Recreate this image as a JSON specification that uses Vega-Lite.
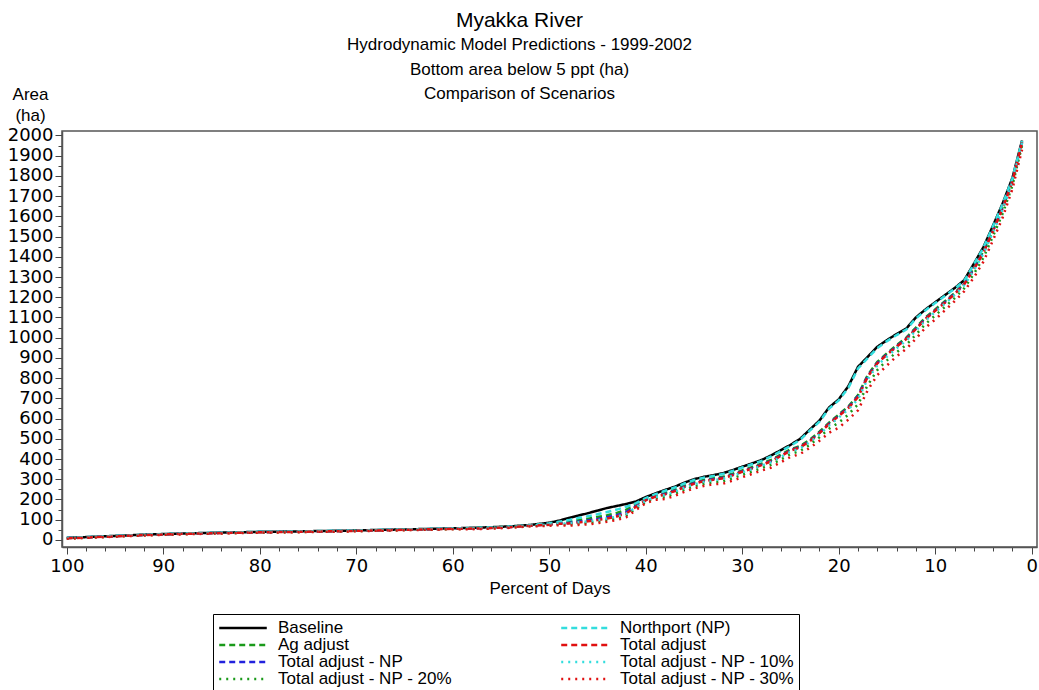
{
 "$schema": "https://vega.github.io/schema/vega-lite/v6.json",
 "width": 975,
 "height": 416,
 "autosize": {"type": "none"},
 "padding": {"left": 62, "top": 131, "right": 2, "bottom": 143},
 "background": "white",
 "config": {"view": {"stroke": "#555", "strokeWidth": 1.5}, "font": "Liberation Sans"},
 "title": {
  "text": "Myakka River",
  "subtitle": ["Hydrodynamic Model Predictions - 1999-2002", "Bottom area below 5 ppt (ha)", "Comparison of Scenarios"],
  "anchor": "middle", "frame": "group", "dx": -30, "offset": -17,
  "font": "Liberation Sans", "fontSize": 21, "fontWeight": "normal", "color": "black",
  "subtitleFont": "Liberation Sans", "subtitleFontSize": 17, "subtitleColor": "black",
  "subtitlePadding": 6, "subtitleLineHeight": 24.5
 },
 "data": {"values": [
  {"p":100,"Baseline":10,"Northport (NP)":10,"Ag adjust":9,"Total adjust - NP":9,"Total adjust":8,"Total adjust - NP - 10%":9,"Total adjust - NP - 20%":7,"Total adjust - NP - 30%":6},
  {"p":98,"Baseline":14,"Northport (NP)":14,"Ag adjust":13,"Total adjust - NP":13,"Total adjust":12,"Total adjust - NP - 10%":13,"Total adjust - NP - 20%":11,"Total adjust - NP - 30%":10},
  {"p":96,"Baseline":18,"Northport (NP)":18,"Ag adjust":17,"Total adjust - NP":17,"Total adjust":16,"Total adjust - NP - 10%":17,"Total adjust - NP - 20%":15,"Total adjust - NP - 30%":14},
  {"p":94,"Baseline":22,"Northport (NP)":22,"Ag adjust":21,"Total adjust - NP":21,"Total adjust":20,"Total adjust - NP - 10%":21,"Total adjust - NP - 20%":19,"Total adjust - NP - 30%":18},
  {"p":92,"Baseline":26,"Northport (NP)":26,"Ag adjust":25,"Total adjust - NP":25,"Total adjust":24,"Total adjust - NP - 10%":25,"Total adjust - NP - 20%":23,"Total adjust - NP - 30%":22},
  {"p":90,"Baseline":29,"Northport (NP)":29,"Ag adjust":28,"Total adjust - NP":28,"Total adjust":27,"Total adjust - NP - 10%":28,"Total adjust - NP - 20%":26,"Total adjust - NP - 30%":25},
  {"p":88,"Baseline":32,"Northport (NP)":32,"Ag adjust":31,"Total adjust - NP":31,"Total adjust":30,"Total adjust - NP - 10%":31,"Total adjust - NP - 20%":29,"Total adjust - NP - 30%":28},
  {"p":86,"Baseline":34,"Northport (NP)":34,"Ag adjust":33,"Total adjust - NP":33,"Total adjust":32,"Total adjust - NP - 10%":33,"Total adjust - NP - 20%":31,"Total adjust - NP - 30%":30},
  {"p":84,"Baseline":36,"Northport (NP)":36,"Ag adjust":35,"Total adjust - NP":35,"Total adjust":34,"Total adjust - NP - 10%":35,"Total adjust - NP - 20%":33,"Total adjust - NP - 30%":32},
  {"p":82,"Baseline":38,"Northport (NP)":38,"Ag adjust":37,"Total adjust - NP":37,"Total adjust":36,"Total adjust - NP - 10%":37,"Total adjust - NP - 20%":35,"Total adjust - NP - 30%":34},
  {"p":80,"Baseline":40,"Northport (NP)":40,"Ag adjust":39,"Total adjust - NP":39,"Total adjust":38,"Total adjust - NP - 10%":39,"Total adjust - NP - 20%":37,"Total adjust - NP - 30%":36},
  {"p":78,"Baseline":41,"Northport (NP)":41,"Ag adjust":40,"Total adjust - NP":40,"Total adjust":39,"Total adjust - NP - 10%":40,"Total adjust - NP - 20%":38,"Total adjust - NP - 30%":37},
  {"p":76,"Baseline":42,"Northport (NP)":42,"Ag adjust":41,"Total adjust - NP":41,"Total adjust":40,"Total adjust - NP - 10%":41,"Total adjust - NP - 20%":39,"Total adjust - NP - 30%":38},
  {"p":74,"Baseline":44,"Northport (NP)":44,"Ag adjust":43,"Total adjust - NP":43,"Total adjust":42,"Total adjust - NP - 10%":43,"Total adjust - NP - 20%":41,"Total adjust - NP - 30%":40},
  {"p":72,"Baseline":45,"Northport (NP)":45,"Ag adjust":44,"Total adjust - NP":44,"Total adjust":43,"Total adjust - NP - 10%":44,"Total adjust - NP - 20%":42,"Total adjust - NP - 30%":41},
  {"p":70,"Baseline":47,"Northport (NP)":47,"Ag adjust":46,"Total adjust - NP":46,"Total adjust":45,"Total adjust - NP - 10%":46,"Total adjust - NP - 20%":44,"Total adjust - NP - 30%":43},
  {"p":68,"Baseline":49,"Northport (NP)":49,"Ag adjust":48,"Total adjust - NP":48,"Total adjust":47,"Total adjust - NP - 10%":48,"Total adjust - NP - 20%":46,"Total adjust - NP - 30%":45},
  {"p":66,"Baseline":51,"Northport (NP)":51,"Ag adjust":50,"Total adjust - NP":50,"Total adjust":49,"Total adjust - NP - 10%":50,"Total adjust - NP - 20%":48,"Total adjust - NP - 30%":47},
  {"p":64,"Baseline":53,"Northport (NP)":53,"Ag adjust":52,"Total adjust - NP":52,"Total adjust":51,"Total adjust - NP - 10%":52,"Total adjust - NP - 20%":50,"Total adjust - NP - 30%":49},
  {"p":62,"Baseline":55,"Northport (NP)":55,"Ag adjust":54,"Total adjust - NP":54,"Total adjust":53,"Total adjust - NP - 10%":54,"Total adjust - NP - 20%":52,"Total adjust - NP - 30%":51},
  {"p":60,"Baseline":57,"Northport (NP)":57,"Ag adjust":56,"Total adjust - NP":56,"Total adjust":55,"Total adjust - NP - 10%":56,"Total adjust - NP - 20%":54,"Total adjust - NP - 30%":53},
  {"p":58,"Baseline":60,"Northport (NP)":59,"Ag adjust":58,"Total adjust - NP":57,"Total adjust":56,"Total adjust - NP - 10%":57,"Total adjust - NP - 20%":55,"Total adjust - NP - 30%":53},
  {"p":56,"Baseline":63,"Northport (NP)":62,"Ag adjust":61,"Total adjust - NP":60,"Total adjust":59,"Total adjust - NP - 10%":60,"Total adjust - NP - 20%":58,"Total adjust - NP - 30%":56},
  {"p":54,"Baseline":67,"Northport (NP)":66,"Ag adjust":65,"Total adjust - NP":64,"Total adjust":63,"Total adjust - NP - 10%":64,"Total adjust - NP - 20%":62,"Total adjust - NP - 30%":60},
  {"p":52,"Baseline":74,"Northport (NP)":73,"Ag adjust":72,"Total adjust - NP":71,"Total adjust":70,"Total adjust - NP - 10%":71,"Total adjust - NP - 20%":69,"Total adjust - NP - 30%":67},
  {"p":50,"Baseline":85,"Northport (NP)":82,"Ag adjust":79,"Total adjust - NP":77,"Total adjust":75,"Total adjust - NP - 10%":76,"Total adjust - NP - 20%":73,"Total adjust - NP - 30%":70},
  {"p":49,"Baseline":95,"Northport (NP)":90,"Ag adjust":85,"Total adjust - NP":82,"Total adjust":80,"Total adjust - NP - 10%":81,"Total adjust - NP - 20%":77,"Total adjust - NP - 30%":73},
  {"p":48,"Baseline":108,"Northport (NP)":98,"Ag adjust":90,"Total adjust - NP":84,"Total adjust":81,"Total adjust - NP - 10%":82,"Total adjust - NP - 20%":76,"Total adjust - NP - 30%":70},
  {"p":47,"Baseline":120,"Northport (NP)":108,"Ag adjust":98,"Total adjust - NP":90,"Total adjust":86,"Total adjust - NP - 10%":87,"Total adjust - NP - 20%":80,"Total adjust - NP - 30%":74},
  {"p":46,"Baseline":132,"Northport (NP)":117,"Ag adjust":105,"Total adjust - NP":96,"Total adjust":92,"Total adjust - NP - 10%":92,"Total adjust - NP - 20%":84,"Total adjust - NP - 30%":77},
  {"p":45,"Baseline":145,"Northport (NP)":127,"Ag adjust":113,"Total adjust - NP":103,"Total adjust":98,"Total adjust - NP - 10%":98,"Total adjust - NP - 20%":90,"Total adjust - NP - 30%":83},
  {"p":44,"Baseline":158,"Northport (NP)":138,"Ag adjust":122,"Total adjust - NP":112,"Total adjust":106,"Total adjust - NP - 10%":106,"Total adjust - NP - 20%":98,"Total adjust - NP - 30%":90},
  {"p":43,"Baseline":168,"Northport (NP)":150,"Ag adjust":133,"Total adjust - NP":122,"Total adjust":116,"Total adjust - NP - 10%":115,"Total adjust - NP - 20%":106,"Total adjust - NP - 30%":98},
  {"p":42,"Baseline":178,"Northport (NP)":164,"Ag adjust":150,"Total adjust - NP":138,"Total adjust":132,"Total adjust - NP - 10%":130,"Total adjust - NP - 20%":122,"Total adjust - NP - 30%":113},
  {"p":41,"Baseline":190,"Northport (NP)":182,"Ag adjust":175,"Total adjust - NP":168,"Total adjust":164,"Total adjust - NP - 10%":162,"Total adjust - NP - 20%":155,"Total adjust - NP - 30%":148},
  {"p":40,"Baseline":212,"Northport (NP)":207,"Ag adjust":202,"Total adjust - NP":198,"Total adjust":196,"Total adjust - NP - 10%":194,"Total adjust - NP - 20%":188,"Total adjust - NP - 30%":182},
  {"p":39,"Baseline":230,"Northport (NP)":226,"Ag adjust":220,"Total adjust - NP":216,"Total adjust":214,"Total adjust - NP - 10%":212,"Total adjust - NP - 20%":206,"Total adjust - NP - 30%":198},
  {"p":38,"Baseline":247,"Northport (NP)":243,"Ag adjust":232,"Total adjust - NP":227,"Total adjust":225,"Total adjust - NP - 10%":222,"Total adjust - NP - 20%":212,"Total adjust - NP - 30%":202},
  {"p":37,"Baseline":263,"Northport (NP)":259,"Ag adjust":248,"Total adjust - NP":243,"Total adjust":241,"Total adjust - NP - 10%":238,"Total adjust - NP - 20%":228,"Total adjust - NP - 30%":218},
  {"p":36,"Baseline":283,"Northport (NP)":279,"Ag adjust":268,"Total adjust - NP":263,"Total adjust":261,"Total adjust - NP - 10%":258,"Total adjust - NP - 20%":248,"Total adjust - NP - 30%":238},
  {"p":35,"Baseline":300,"Northport (NP)":296,"Ag adjust":285,"Total adjust - NP":280,"Total adjust":278,"Total adjust - NP - 10%":275,"Total adjust - NP - 20%":265,"Total adjust - NP - 30%":255},
  {"p":34,"Baseline":312,"Northport (NP)":308,"Ag adjust":297,"Total adjust - NP":292,"Total adjust":290,"Total adjust - NP - 10%":287,"Total adjust - NP - 20%":277,"Total adjust - NP - 30%":267},
  {"p":33,"Baseline":320,"Northport (NP)":316,"Ag adjust":305,"Total adjust - NP":300,"Total adjust":298,"Total adjust - NP - 10%":295,"Total adjust - NP - 20%":285,"Total adjust - NP - 30%":275},
  {"p":32,"Baseline":330,"Northport (NP)":326,"Ag adjust":312,"Total adjust - NP":307,"Total adjust":305,"Total adjust - NP - 10%":302,"Total adjust - NP - 20%":290,"Total adjust - NP - 30%":278},
  {"p":31,"Baseline":345,"Northport (NP)":341,"Ag adjust":327,"Total adjust - NP":322,"Total adjust":320,"Total adjust - NP - 10%":317,"Total adjust - NP - 20%":305,"Total adjust - NP - 30%":293},
  {"p":30,"Baseline":362,"Northport (NP)":358,"Ag adjust":344,"Total adjust - NP":339,"Total adjust":337,"Total adjust - NP - 10%":334,"Total adjust - NP - 20%":322,"Total adjust - NP - 30%":310},
  {"p":29,"Baseline":378,"Northport (NP)":374,"Ag adjust":360,"Total adjust - NP":355,"Total adjust":353,"Total adjust - NP - 10%":350,"Total adjust - NP - 20%":338,"Total adjust - NP - 30%":326},
  {"p":28,"Baseline":395,"Northport (NP)":391,"Ag adjust":377,"Total adjust - NP":372,"Total adjust":370,"Total adjust - NP - 10%":367,"Total adjust - NP - 20%":355,"Total adjust - NP - 30%":343},
  {"p":27,"Baseline":418,"Northport (NP)":413,"Ag adjust":396,"Total adjust - NP":391,"Total adjust":389,"Total adjust - NP - 10%":384,"Total adjust - NP - 20%":372,"Total adjust - NP - 30%":358},
  {"p":26,"Baseline":444,"Northport (NP)":439,"Ag adjust":422,"Total adjust - NP":417,"Total adjust":415,"Total adjust - NP - 10%":410,"Total adjust - NP - 20%":398,"Total adjust - NP - 30%":384},
  {"p":25,"Baseline":470,"Northport (NP)":465,"Ag adjust":448,"Total adjust - NP":443,"Total adjust":441,"Total adjust - NP - 10%":436,"Total adjust - NP - 20%":424,"Total adjust - NP - 30%":410},
  {"p":24,"Baseline":500,"Northport (NP)":495,"Ag adjust":465,"Total adjust - NP":460,"Total adjust":458,"Total adjust - NP - 10%":452,"Total adjust - NP - 20%":440,"Total adjust - NP - 30%":425},
  {"p":23,"Baseline":545,"Northport (NP)":540,"Ag adjust":495,"Total adjust - NP":490,"Total adjust":488,"Total adjust - NP - 10%":483,"Total adjust - NP - 20%":470,"Total adjust - NP - 30%":455},
  {"p":22,"Baseline":590,"Northport (NP)":585,"Ag adjust":535,"Total adjust - NP":530,"Total adjust":528,"Total adjust - NP - 10%":522,"Total adjust - NP - 20%":508,"Total adjust - NP - 30%":490},
  {"p":21,"Baseline":655,"Northport (NP)":649,"Ag adjust":580,"Total adjust - NP":575,"Total adjust":573,"Total adjust - NP - 10%":565,"Total adjust - NP - 20%":550,"Total adjust - NP - 30%":530},
  {"p":20,"Baseline":695,"Northport (NP)":690,"Ag adjust":620,"Total adjust - NP":615,"Total adjust":613,"Total adjust - NP - 10%":605,"Total adjust - NP - 20%":580,"Total adjust - NP - 30%":555},
  {"p":19,"Baseline":760,"Northport (NP)":752,"Ag adjust":660,"Total adjust - NP":655,"Total adjust":652,"Total adjust - NP - 10%":645,"Total adjust - NP - 20%":620,"Total adjust - NP - 30%":595},
  {"p":18,"Baseline":856,"Northport (NP)":848,"Ag adjust":716,"Total adjust - NP":711,"Total adjust":706,"Total adjust - NP - 10%":696,"Total adjust - NP - 20%":671,"Total adjust - NP - 30%":641},
  {"p":17,"Baseline":905,"Northport (NP)":899,"Ag adjust":815,"Total adjust - NP":810,"Total adjust":807,"Total adjust - NP - 10%":795,"Total adjust - NP - 20%":765,"Total adjust - NP - 30%":740},
  {"p":16,"Baseline":955,"Northport (NP)":949,"Ag adjust":880,"Total adjust - NP":875,"Total adjust":873,"Total adjust - NP - 10%":863,"Total adjust - NP - 20%":840,"Total adjust - NP - 30%":815},
  {"p":15,"Baseline":988,"Northport (NP)":983,"Ag adjust":923,"Total adjust - NP":918,"Total adjust":916,"Total adjust - NP - 10%":906,"Total adjust - NP - 20%":888,"Total adjust - NP - 30%":863},
  {"p":14,"Baseline":1018,"Northport (NP)":1013,"Ag adjust":963,"Total adjust - NP":958,"Total adjust":956,"Total adjust - NP - 10%":948,"Total adjust - NP - 20%":928,"Total adjust - NP - 30%":908},
  {"p":13,"Baseline":1045,"Northport (NP)":1040,"Ag adjust":1000,"Total adjust - NP":995,"Total adjust":993,"Total adjust - NP - 10%":985,"Total adjust - NP - 20%":965,"Total adjust - NP - 30%":945},
  {"p":12,"Baseline":1100,"Northport (NP)":1095,"Ag adjust":1050,"Total adjust - NP":1045,"Total adjust":1043,"Total adjust - NP - 10%":1035,"Total adjust - NP - 20%":1015,"Total adjust - NP - 30%":995},
  {"p":11,"Baseline":1140,"Northport (NP)":1136,"Ag adjust":1100,"Total adjust - NP":1095,"Total adjust":1093,"Total adjust - NP - 10%":1085,"Total adjust - NP - 20%":1068,"Total adjust - NP - 30%":1050},
  {"p":10,"Baseline":1175,"Northport (NP)":1171,"Ag adjust":1140,"Total adjust - NP":1135,"Total adjust":1133,"Total adjust - NP - 10%":1127,"Total adjust - NP - 20%":1110,"Total adjust - NP - 30%":1090},
  {"p":9,"Baseline":1210,"Northport (NP)":1206,"Ag adjust":1180,"Total adjust - NP":1175,"Total adjust":1173,"Total adjust - NP - 10%":1168,"Total adjust - NP - 20%":1152,"Total adjust - NP - 30%":1135},
  {"p":8,"Baseline":1245,"Northport (NP)":1242,"Ag adjust":1220,"Total adjust - NP":1217,"Total adjust":1215,"Total adjust - NP - 10%":1210,"Total adjust - NP - 20%":1195,"Total adjust - NP - 30%":1180},
  {"p":7,"Baseline":1284,"Northport (NP)":1281,"Ag adjust":1269,"Total adjust - NP":1266,"Total adjust":1264,"Total adjust - NP - 10%":1259,"Total adjust - NP - 20%":1244,"Total adjust - NP - 30%":1229},
  {"p":6,"Baseline":1365,"Northport (NP)":1362,"Ag adjust":1345,"Total adjust - NP":1340,"Total adjust":1338,"Total adjust - NP - 10%":1333,"Total adjust - NP - 20%":1315,"Total adjust - NP - 30%":1297},
  {"p":5,"Baseline":1448,"Northport (NP)":1445,"Ag adjust":1428,"Total adjust - NP":1423,"Total adjust":1421,"Total adjust - NP - 10%":1415,"Total adjust - NP - 20%":1396,"Total adjust - NP - 30%":1376},
  {"p":4,"Baseline":1555,"Northport (NP)":1552,"Ag adjust":1535,"Total adjust - NP":1530,"Total adjust":1528,"Total adjust - NP - 10%":1522,"Total adjust - NP - 20%":1503,"Total adjust - NP - 30%":1483},
  {"p":3,"Baseline":1665,"Northport (NP)":1662,"Ag adjust":1647,"Total adjust - NP":1643,"Total adjust":1640,"Total adjust - NP - 10%":1635,"Total adjust - NP - 20%":1615,"Total adjust - NP - 30%":1595},
  {"p":2,"Baseline":1790,"Northport (NP)":1788,"Ag adjust":1778,"Total adjust - NP":1775,"Total adjust":1772,"Total adjust - NP - 10%":1768,"Total adjust - NP - 20%":1752,"Total adjust - NP - 30%":1735},
  {"p":1,"Baseline":1975,"Northport (NP)":1973,"Ag adjust":1970,"Total adjust - NP":1967,"Total adjust":1965,"Total adjust - NP - 10%":1963,"Total adjust - NP - 20%":1950,"Total adjust - NP - 30%":1930}
 ]},
 "transform": [
  {"fold": ["Baseline", "Ag adjust", "Total adjust - NP", "Total adjust - NP - 20%", "Northport (NP)", "Total adjust", "Total adjust - NP - 10%", "Total adjust - NP - 30%"], "as": ["s", "v"]}
 ],
 "mark": {"type": "line", "strokeWidth": 2.5},
 "encoding": {
  "x": {
   "field": "p", "type": "quantitative",
   "scale": {"domain": [-0.55, 100.5], "reverse": true, "nice": false, "zero": false},
   "axis": {
    "values": [0,2,4,6,8,10,12,14,16,18,20,22,24,26,28,30,32,34,36,38,40,42,44,46,48,50,52,54,56,58,60,62,64,66,68,70,72,74,76,78,80,82,84,86,88,90,92,94,96,98,100],
    "labelExpr": "datum.value % 10 === 0 ? datum.label : ''",
    "tickSize": {"condition": {"test": "datum.value % 10 === 0", "value": 7}, "value": 4},
    "labelOverlap": false, "labelFlush": false, "grid": false,
    "labelFont": "DejaVu Sans", "labelFontSize": 18, "labelColor": "black", "labelPadding": 3,
    "tickColor": "#444", "domainColor": "#555", "domainWidth": 1.5, "tickWidth": 1,
    "title": "Percent of Days", "titleFont": "Liberation Sans", "titleFontSize": 17, "titleFontWeight": "normal", "titleColor": "black", "titlePadding": 5
   }
  },
  "y": {
   "field": "v", "type": "quantitative",
   "scale": {"domain": [-35, 2022], "nice": false, "zero": false},
   "axis": {
    "values": [0,50,100,150,200,250,300,350,400,450,500,550,600,650,700,750,800,850,900,950,1000,1050,1100,1150,1200,1250,1300,1350,1400,1450,1500,1550,1600,1650,1700,1750,1800,1850,1900,1950,2000],
    "labelExpr": "datum.value % 100 === 0 ? datum.label : ''",
    "format": "d",
    "tickSize": {"condition": {"test": "datum.value % 100 === 0", "value": 7}, "value": 4},
    "labelOverlap": false, "grid": false,
    "labelFont": "DejaVu Sans", "labelFontSize": 18, "labelColor": "black", "labelPadding": 2,
    "tickColor": "#444", "domainColor": "#555", "domainWidth": 1.5, "tickWidth": 1,
    "title": ["Area", "(ha)"], "titleAngle": 0, "titleAlign": "center", "titleBaseline": "top",
    "titleX": -32, "titleY": -45, "titleFont": "Liberation Sans", "titleFontSize": 17, "titleFontWeight": "normal", "titleColor": "black", "titleLineHeight": 21
   }
  },
  "color": {
   "field": "s", "type": "nominal",
   "scale": {
    "domain": ["Baseline", "Ag adjust", "Total adjust - NP", "Total adjust - NP - 20%", "Northport (NP)", "Total adjust", "Total adjust - NP - 10%", "Total adjust - NP - 30%"],
    "range": ["#000000", "#1a9a1a", "#2222dd", "#1a9a1a", "#33dddd", "#e01010", "#33dddd", "#e01010"]
   },
   "legend": {
    "title": null, "orient": "none", "legendX": 151, "legendY": 483, "columns": 2,
    "symbolType": "M-3.17,0H3.17", "symbolSize": 225, "symbolStrokeWidth": 2.5, "symbolOffset": 16,
    "labelFont": "Liberation Sans", "labelFontSize": 17, "labelColor": "black", "labelOffset": 26, "labelLimit": 400,
    "columnPadding": 104, "rowPadding": -4, "padding": 5,
    "strokeColor": "black", "fillColor": "white"
   }
  },
  "strokeDash": {
   "field": "s", "type": "nominal",
   "scale": {
    "domain": ["Baseline", "Ag adjust", "Total adjust - NP", "Total adjust - NP - 20%", "Northport (NP)", "Total adjust", "Total adjust - NP - 10%", "Total adjust - NP - 30%"],
    "range": [[1, 0], [6, 4], [6, 4], [2, 5], [6, 4], [6, 4], [2, 5], [2, 5]]
   },
   "legend": {
    "title": null, "orient": "none", "legendX": 151, "legendY": 483, "columns": 2,
    "symbolType": "M-3.17,0H3.17", "symbolSize": 225, "symbolStrokeWidth": 2.5, "symbolOffset": 16,
    "labelFont": "Liberation Sans", "labelFontSize": 17, "labelColor": "black", "labelOffset": 26, "labelLimit": 400,
    "columnPadding": 104, "rowPadding": -4, "padding": 5,
    "strokeColor": "black", "fillColor": "white"
   }
  }
 }
}
